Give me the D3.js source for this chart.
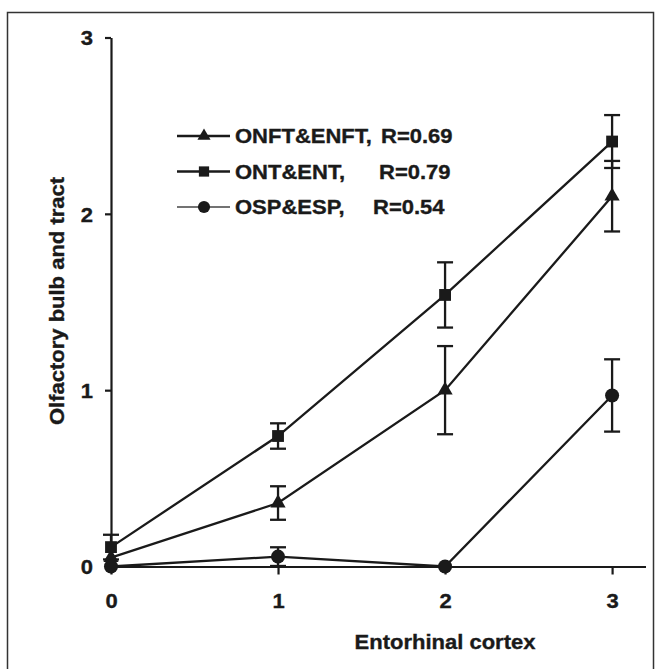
<!DOCTYPE html>
<html>
<head>
<meta charset="utf-8">
<script src="https://cdn.jsdelivr.net/npm/d3@7"></script>
<style>
  body { margin: 0; background: #fff; }
  text { font-family: "Liberation Sans", Arial, sans-serif; font-weight: bold; fill: #1a1a1a;
         stroke: #1a1a1a; stroke-width: 0.35px; }
</style>
</head>
<body>
<svg id="chart"></svg>
<script>
////////////////////////////////////////////////////////////////////////////////
////////////////////////////////////////////////////////////////////////// Data
////////////////////////////////////////////////////////////////////////////////

const xValues = [0, 1, 2, 3];
const xTicks = [0, 1, 2, 3];
const yTicks = [0, 1, 2, 3];

const seriesNames = ["ONFT&ENFT,", "ONT&ENT,", "OSP&ESP,"];
const seriesR = ["R=0.69", "R=0.79", "R=0.54"];
const seriesMarkers = ["triangle", "square", "circle"];

// mean values
const onftEnft = [0.05, 0.36, 1.0, 2.1];
const ontEnt = [0.11, 0.74, 1.54, 2.41];
const ospEsp = [0.0, 0.056, 0.0, 0.97];

// error bars (+/-)
const onftEnftErr = [0.0, 0.095, 0.25, 0.2];
const ontEntErr = [0.07, 0.072, 0.185, 0.15];
const ospEspErr = [0.0, 0.053, 0.0, 0.205];

const xTitle = "Entorhinal cortex";
const yTitle = "Olfactory bulb and tract";

////////////////////////////////////////////////////////////////////////////////

const W = 662, H = 669;
const ink = "#1a1a1a";
const fontSize = 20;
const widen = 1.1;   // the print font runs wider than Liberation

const svg = d3.select("#chart")
              .attr("width", W)
              .attr("height", H);

// outer frame (bottom edge falls off the page)
svg.append("rect")
   .attr("x", 7.5)
   .attr("y", 12.5)
   .attr("width", 646)
   .attr("height", 700)
   .attr("fill", "none")
   .attr("stroke", "#333")
   .attr("stroke-width", 1.5);

const xScale = d3.scaleLinear().domain([0, 3.2]).range([111, 645.5]);
const yScale = d3.scaleLinear().domain([0, 3]).range([566.5, 37.5]);

function stretch(sel) {
  sel.each(function() {
    const w = this.getComputedTextLength();
    d3.select(this)
      .attr("textLength", w * widen)
      .attr("lengthAdjust", "spacingAndGlyphs");
  });
}

// X-axis
const xAxisG = svg.append("g")
                  .attr("transform", `translate(0, ${yScale(0)})`)
                  .call(d3.axisBottom(xScale)
                          .tickValues(xTicks)
                          .tickSizeInner(8)
                          .tickSizeOuter(0)
                          .tickFormat(d3.format("d")));
xAxisG.select(".domain").attr("stroke", ink).attr("stroke-width", 2.2);
xAxisG.selectAll(".tick line").attr("stroke", ink).attr("stroke-width", 2.2);
xAxisG.selectAll(".tick text")
      .attr("y", 34)
      .attr("dy", "0.36em")
      .style("font-size", fontSize + "px")
      .attr("fill", ink)
      .call(stretch);

// Y-axis
const yAxisG = svg.append("g")
                  .attr("transform", `translate(${xScale(0)}, 0)`)
                  .call(d3.axisLeft(yScale)
                          .tickValues(yTicks)
                          .tickSizeInner(6)
                          .tickSizeOuter(0)
                          .tickFormat(d3.format("d")));
yAxisG.select(".domain").attr("stroke", ink).attr("stroke-width", 2.2);
yAxisG.selectAll(".tick line").attr("stroke", ink).attr("stroke-width", 2.2);
yAxisG.selectAll(".tick text")
      .attr("x", -18)
      .attr("dy", "0.36em")
      .style("font-size", fontSize + "px")
      .attr("fill", ink)
      .call(stretch);

// Axis titles
svg.append("text")
   .attr("x", 445)
   .attr("y", 642)
   .attr("dy", "0.36em")
   .style("text-anchor", "middle")
   .style("font-size", fontSize + "px")
   .text(xTitle)
   .call(stretch);

svg.append("text")
   .attr("transform", "rotate(-90)")
   .attr("x", -301)
   .attr("y", 57)
   .attr("dy", "0.36em")
   .style("text-anchor", "middle")
   .style("font-size", fontSize + "px")
   .text(yTitle)
   .call(stretch);

// Series
const series = [
  { values: onftEnft, err: onftEnftErr, marker: seriesMarkers[0] },
  { values: ontEnt, err: ontEntErr, marker: seriesMarkers[1] },
  { values: ospEsp, err: ospEspErr, marker: seriesMarkers[2] }
];

const symbolType = { triangle: d3.symbolTriangle, square: d3.symbolSquare, circle: d3.symbolCircle };
const symbolSize = { triangle: 100, square: 140, circle: 155 };

const line = d3.line()
               .x(function(d, i) { return xScale(xValues[i]); })
               .y(function(d) { return yScale(d); });

const plot = svg.append("g");

series.forEach(function(s) {
  plot.append("path")
      .attr("d", line(s.values))
      .attr("fill", "none")
      .attr("stroke", ink)
      .attr("stroke-width", 2.3);
});

series.forEach(function(s) {
  s.values.forEach(function(v, i) {
    if (s.err[i] <= 0) return;
    const x = xScale(xValues[i]);
    const y0 = yScale(v - s.err[i]);
    const y1 = yScale(v + s.err[i]);
    const g = plot.append("g").attr("stroke", ink).attr("stroke-width", 2.3);
    g.append("line").attr("x1", x).attr("x2", x).attr("y1", y0).attr("y2", y1);
    g.append("line").attr("x1", x - 8).attr("x2", x + 8).attr("y1", y0).attr("y2", y0);
    g.append("line").attr("x1", x - 8).attr("x2", x + 8).attr("y1", y1).attr("y2", y1);
  });
});

series.forEach(function(s) {
  plot.selectAll(null)
      .data(s.values)
      .join("path")
        .attr("transform", function(d, i) { return `translate(${xScale(xValues[i])}, ${yScale(d)})`; })
        .attr("d", d3.symbol().type(symbolType[s.marker]).size(symbolSize[s.marker]))
        .attr("fill", ink);
});

// Legend
const legendY = [136, 171.5, 207];
const legendRX = [381, 379, 373];

seriesNames.forEach(function(name, i) {
  const g = svg.append("g").attr("transform", `translate(0, ${legendY[i]})`);
  g.append("line")
   .attr("x1", 177).attr("x2", 230)
   .attr("y1", 0).attr("y2", 0)
   .attr("stroke", i == 2 ? "#444" : ink)
   .attr("stroke-width", i == 2 ? 1.6 : 2.3);
  g.append("path")
   .attr("transform", "translate(204, 0)")
   .attr("d", d3.symbol().type(symbolType[seriesMarkers[i]]).size(symbolSize[seriesMarkers[i]] * 0.75))
   .attr("fill", ink);
  g.append("text")
   .attr("x", 235)
   .attr("dy", "0.36em")
   .style("font-size", fontSize + "px")
   .text(name)
   .call(stretch);
  g.append("text")
   .attr("x", legendRX[i])
   .attr("dy", "0.36em")
   .style("font-size", fontSize + "px")
   .text(seriesR[i])
   .call(stretch);
});
</script>
</body>
</html>
